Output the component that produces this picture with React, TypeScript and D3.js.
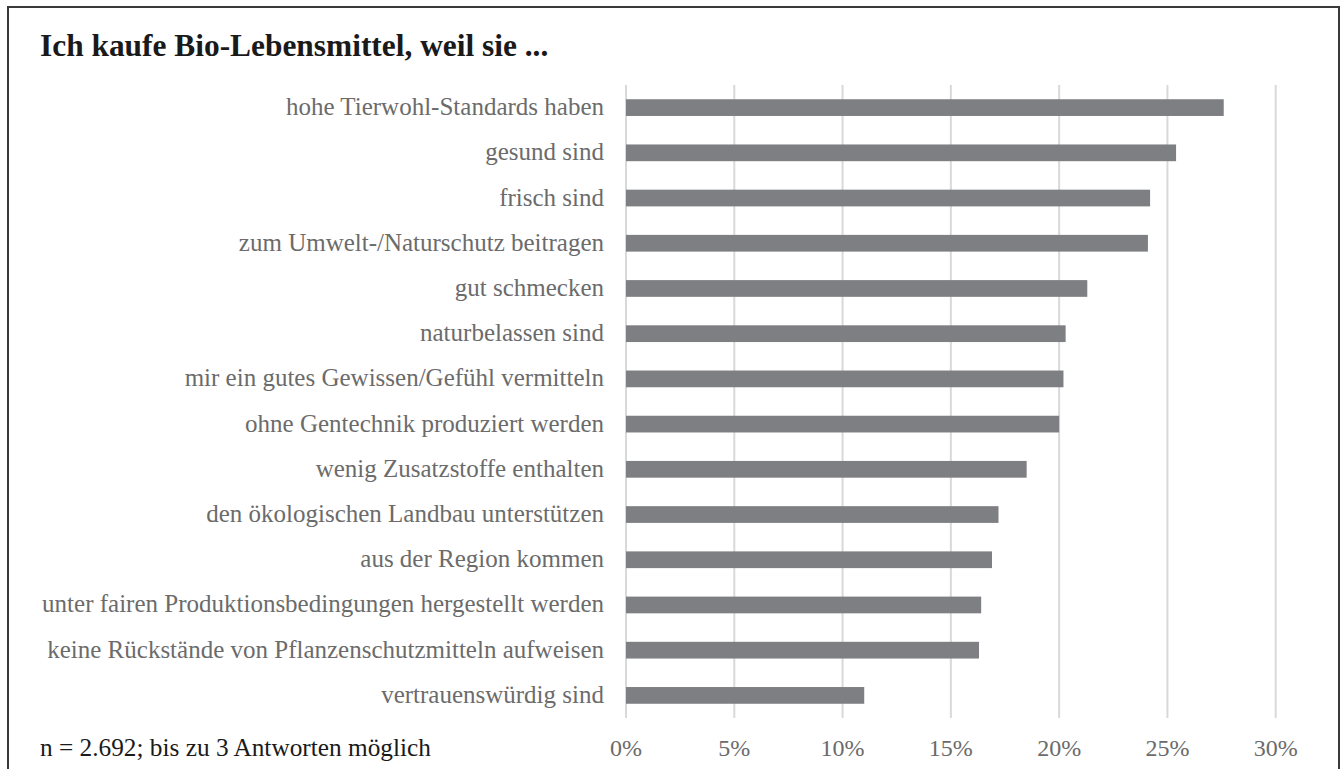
import React, { useEffect, useRef } from "react";
import * as d3 from "d3";

const categories: string[] = [
  "hohe Tierwohl-Standards haben",
  "gesund sind",
  "frisch sind",
  "zum Umwelt-/Naturschutz beitragen",
  "gut schmecken",
  "naturbelassen sind",
  "mir ein gutes Gewissen/Gefühl vermitteln",
  "ohne Gentechnik produziert werden",
  "wenig Zusatzstoffe enthalten",
  "den ökologischen Landbau unterstützen",
  "aus der Region kommen",
  "unter fairen Produktionsbedingungen hergestellt werden",
  "keine Rückstände von Pflanzenschutzmitteln aufweisen",
  "vertrauenswürdig sind",
];

const values: number[] = [
  27.6, 25.4, 24.2, 24.1, 21.3, 20.3, 20.2, 20.0, 18.5, 17.2, 16.9, 16.4, 16.3, 11.0,
];

const ticks: number[] = [0, 5, 10, 15, 20, 25, 30];

const title = "Ich kaufe Bio-Lebensmittel, weil sie ...";
const footnote = "n = 2.692; bis zu 3 Antworten möglich";

const W = 1341;
const H = 769;
const FONT = "'Liberation Serif', 'Times New Roman', serif";

export default function App() {
  const ref = useRef<SVGSVGElement>(null);

  useEffect(() => {
    const svg = d3.select(ref.current);
    svg.selectAll("*").remove();

    const x = d3.scaleLinear().domain([0, 30]).range([626, 1275.7]);
    const y = d3
      .scaleBand<string>()
      .domain(categories)
      .range([85, 718])
      .paddingInner(0.63)
      .paddingOuter(0.315);

    // outer frame
    svg
      .append("rect")
      .attr("x", 8)
      .attr("y", 7)
      .attr("width", 1331)
      .attr("height", 800)
      .attr("fill", "none")
      .attr("stroke", "#3a3a3a")
      .attr("stroke-width", 2);

    // title
    svg
      .append("text")
      .attr("x", 40)
      .attr("y", 56)
      .attr("font-family", FONT)
      .attr("font-weight", "bold")
      .attr("font-size", 31.4)
      .attr("fill", "#1a1a1a")
      .text(title);

    // gridlines
    svg
      .append("g")
      .selectAll("line")
      .data(ticks)
      .join("line")
      .attr("x1", (d) => x(d))
      .attr("x2", (d) => x(d))
      .attr("y1", 85)
      .attr("y2", 718)
      .attr("stroke", "#d9d9d9")
      .attr("stroke-width", 2);

    // bars
    svg
      .append("g")
      .selectAll("rect")
      .data(values)
      .join("rect")
      .attr("x", x(0))
      .attr("y", (_, i) => y(categories[i])!)
      .attr("width", (d) => x(d) - x(0))
      .attr("height", y.bandwidth())
      .attr("fill", "#7e7f83");

    // category labels
    svg
      .append("g")
      .selectAll("text")
      .data(categories)
      .join("text")
      .attr("x", 604)
      .attr("y", (d) => y(d)! + y.bandwidth() / 2)
      .attr("dy", "0.3em")
      .attr("text-anchor", "end")
      .attr("font-family", FONT)
      .attr("font-size", 25)
      .attr("fill", "#6b6b6b")
      .text((d) => d);

    // x tick labels
    svg
      .append("g")
      .selectAll("text")
      .data(ticks)
      .join("text")
      .attr("x", (d) => x(d))
      .attr("y", 756)
      .attr("text-anchor", "middle")
      .attr("font-family", FONT)
      .attr("font-size", 24)
      .attr("fill", "#6b6b6b")
      .text((d) => `${d}%`);

    // footnote
    svg
      .append("text")
      .attr("x", 40)
      .attr("y", 756)
      .attr("font-family", FONT)
      .attr("font-size", 25.3)
      .attr("fill", "#1a1a1a")
      .text(footnote);
  }, []);

  return (
    <div style={{ position: "absolute", left: 0, top: 0 }}>
      <svg ref={ref} width={W} height={H} style={{ display: "block", background: "#fff" }} />
    </div>
  );
}
